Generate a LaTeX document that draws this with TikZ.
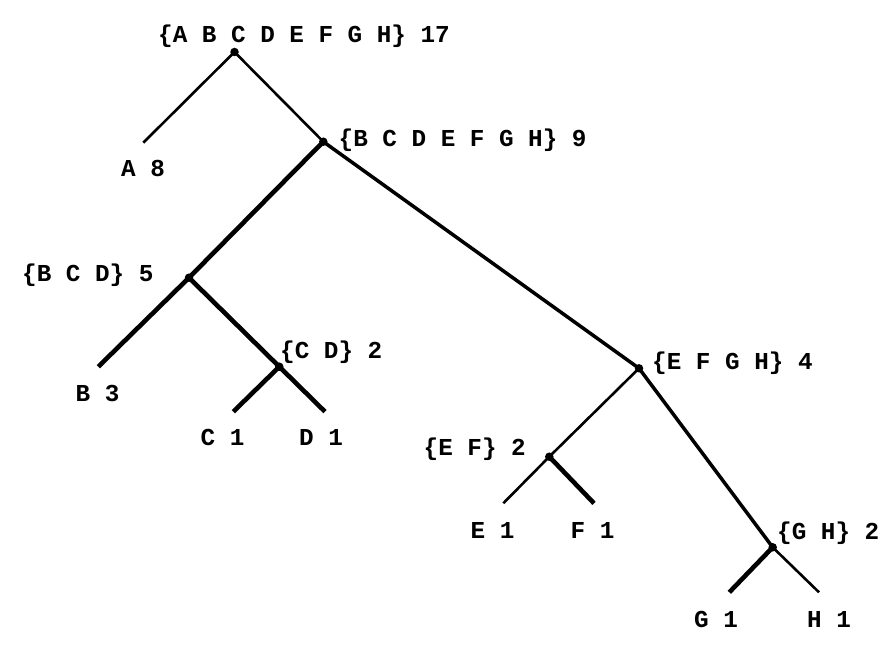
\documentclass[tikz,border=0pt]{standalone}
\usepackage{fontspec}
\setmonofont{Liberation Mono}
\usetikzlibrary{backgrounds}
\begin{document}
\begin{tikzpicture}[x=1pt,y=-1pt,
  dot/.style={circle,fill=black,inner sep=0pt,minimum size=8.5pt},
  lbl/.style={anchor=base west,inner sep=0pt,font=\fontsize{24.3}{29}\selectfont\ttfamily\bfseries},
  thn/.style={line width=2.6pt},
  mid/.style={line width=3.5pt},
  thk/.style={line width=4.6pt}]
\useasboundingbox (0,0) rectangle (895,650);
% internal nodes
\node[dot] (r) at (234.5,52) {};
\node[dot] (n9) at (323.3,141.7) {};
\node[dot] (bcd) at (189,277.7) {};
\node[dot] (cd) at (279.3,366.7) {};
\node[dot] (efgh) at (639,368.3) {};
\node[dot] (ef) at (549.3,456.7) {};
\node[dot] (gh) at (772.7,547.3) {};
% leaf ends
\coordinate (a) at (143.3,142.7);
\coordinate (b) at (98.3,366.7);
\coordinate (c) at (233.3,411.7);
\coordinate (d) at (325,411.7);
\coordinate (e) at (503.3,503.3);
\coordinate (f) at (594,503.3);
\coordinate (g) at (729.3,592.3);
\coordinate (h) at (819,592.3);
% edges
\begin{pgfonlayer}{background}
\draw[thn] (r.center) -- (a);
\draw[thn] (r.center) -- (n9.center);
\draw[thk] (n9.center) -- (bcd.center);
\draw[mid] (n9.center) -- (efgh.center);
\draw[thk] (bcd.center) -- (b);
\draw[thk] (bcd.center) -- (cd.center);
\draw[thk] (cd.center) -- (c);
\draw[thk] (cd.center) -- (d);
\draw[thn] (efgh.center) -- (ef.center);
\draw[mid] (efgh.center) -- (gh.center);
\draw[thn] (ef.center) -- (e);
\draw[thk] (ef.center) -- (f);
\draw[thk] (gh.center) -- (g);
\draw[thn] (gh.center) -- (h);
\end{pgfonlayer}
% labels
\node[lbl] (lr) at (158,42.5) {\{A B C D E F G H\} 17};
\node[lbl] (la) at (121,176.5) {A 8};
\node[lbl] (l9) at (338.5,146.5) {\{B C D E F G H\} 9};
\node[lbl] (lbcd) at (22,281) {\{B C D\} 5};
\node[lbl] (lb) at (75.5,401.5) {B 3};
\node[lbl] (lcd) at (280,358) {\{C D\} 2};
\node[lbl] (lc) at (200.5,445) {C 1};
\node[lbl] (ld) at (299,445) {D 1};
\node[lbl] (lefgh) at (652,369.5) {\{E F G H\} 4};
\node[lbl] (lef) at (423.5,455) {\{E F\} 2};
\node[lbl] (le) at (470.5,538) {E 1};
\node[lbl] (lf) at (570.5,538) {F 1};
\node[lbl] (lgh) at (777,539) {\{G H\} 2};
\node[lbl] (lg) at (694,627) {G 1};
\node[lbl] (lh) at (807,627) {H 1};
\end{tikzpicture}
\end{document}
